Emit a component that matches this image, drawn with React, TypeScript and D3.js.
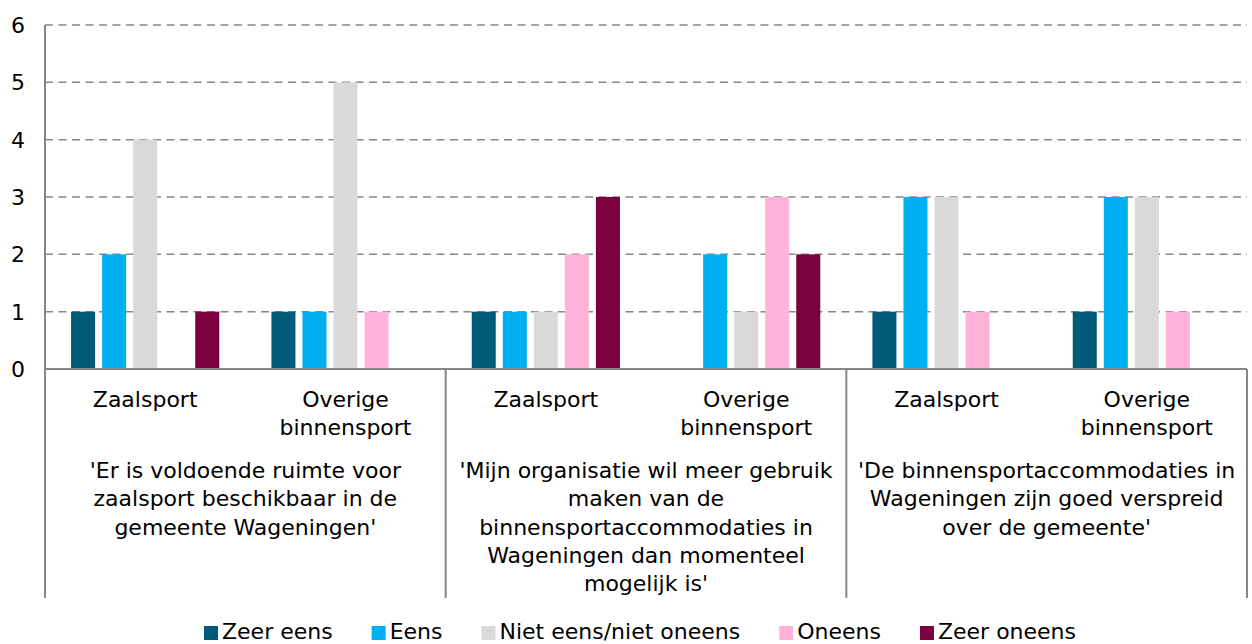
import * as d3 from 'd3';
import React, { useEffect, useRef } from 'react';

const series = ['Zeer eens', 'Eens', 'Niet eens/niet oneens', 'Oneens', 'Zeer oneens'];
const colors = ['#005A7A', '#00B0F0', '#D9D9D9', '#FFB3DA', '#7A0040'];

const questions = [
  ["'Er is voldoende ruimte voor", 'zaalsport beschikbaar in de', "gemeente Wageningen'"],
  ["'Mijn organisatie wil meer gebruik", 'maken van de', 'binnensportaccommodaties in', 'Wageningen dan momenteel', "mogelijk is'"],
  ["'De binnensportaccommodaties in", 'Wageningen zijn goed verspreid', "over de gemeente'"],
];
const subCategories = [['Zaalsport'], ['Overige', 'binnensport']];

// values per bar group, in series order
const zaalsport1 = [1, 2, 4, 0, 1];
const overige1 = [1, 1, 5, 1, 0];
const zaalsport2 = [1, 1, 1, 2, 3];
const overige2 = [0, 2, 1, 3, 2];
const zaalsport3 = [1, 3, 3, 1, 0];
const overige3 = [1, 3, 3, 1, 0];

const groupValues = [zaalsport1, overige1, zaalsport2, overige2, zaalsport3, overige3];
const yTicks = [0, 1, 2, 3, 4, 5, 6];

export default function App() {
  const svgRef = useRef<SVGSVGElement | null>(null);

  const width = 1252;
  const height = 644;
  const marginLeft = 45;
  const marginRight = 5;
  const marginTop = 25;
  const plotBottom = 369;
  const axisBottom = 598;
  const font = 'DejaVu Sans, Verdana, sans-serif';
  const axisColor = '#868686';

  useEffect(() => {
    const svg = d3.select(svgRef.current);
    svg.selectAll('*').remove();

    const groupIds = groupValues.map((_, i) => String(i));

    const x0 = d3.scaleBand<string>()
      .domain(groupIds)
      .range([marginLeft, width - marginRight]);

    const x1 = d3.scaleBand<string>()
      .domain(series)
      .range([0, x0.bandwidth()])
      .paddingInner(0.226)
      .paddingOuter(0.84);

    const y = d3.scaleLinear()
      .domain([0, 6])
      .range([plotBottom, marginTop]);

    // dashed grid lines
    svg.append('g')
      .selectAll('line')
      .data(yTicks.filter(d => d > 0))
      .join('line')
      .attr('x1', marginLeft)
      .attr('x2', width - marginRight)
      .attr('y1', d => y(d))
      .attr('y2', d => y(d))
      .attr('stroke', axisColor)
      .attr('stroke-width', 1.5)
      .attr('stroke-dasharray', '8,5.5');

    // y tick labels
    svg.append('g')
      .selectAll('text')
      .data(yTicks)
      .join('text')
      .attr('x', 25)
      .attr('y', d => y(d))
      .attr('dy', '0.36em')
      .attr('text-anchor', 'end')
      .attr('font-family', font)
      .attr('font-size', 22)
      .attr('fill', '#000')
      .text(d => d);

    // bars
    svg.append('g')
      .selectAll('g')
      .data(groupValues)
      .join('g')
      .attr('transform', (_, i) => `translate(${x0(String(i))},0)`)
      .selectAll('rect')
      .data(vals => vals.map((v, j) => ({ v, j })))
      .join('rect')
      .attr('x', d => x1(series[d.j]) as number)
      .attr('width', x1.bandwidth())
      .attr('y', d => y(d.v))
      .attr('height', d => y(0) - y(d.v))
      .attr('fill', d => colors[d.j]);

    // zero line
    svg.append('line')
      .attr('x1', marginLeft)
      .attr('x2', width - marginRight)
      .attr('y1', y(0))
      .attr('y2', y(0))
      .attr('stroke', axisColor)
      .attr('stroke-width', 2);

    // vertical separators (axis + question boundaries)
    const seps = [0, 2, 4, 6].map(i => i < 6 ? (x0(String(i)) as number) : width - marginRight);
    svg.append('g')
      .selectAll('line')
      .data(seps)
      .join('line')
      .attr('x1', d => d)
      .attr('x2', d => d)
      .attr('y1', (_, i) => i === 0 ? marginTop : y(0))
      .attr('y2', axisBottom)
      .attr('stroke', axisColor)
      .attr('stroke-width', 2);

    // sub category labels
    const sub = svg.append('g')
      .selectAll('text')
      .data(groupIds)
      .join('text')
      .attr('text-anchor', 'middle')
      .attr('font-family', font)
      .attr('font-size', 22)
      .attr('fill', '#000')
      .attr('transform', d => `translate(${(x0(d) as number) + x0.bandwidth() / 2},407)`);
    sub.selectAll('tspan')
      .data((_, i) => subCategories[i % 2])
      .join('tspan')
      .attr('x', 0)
      .attr('y', (_, k) => k * 27.5)
      .text(d => d);

    // question labels
    const q = svg.append('g')
      .selectAll('text')
      .data(questions)
      .join('text')
      .attr('text-anchor', 'middle')
      .attr('font-family', font)
      .attr('font-size', 22)
      .attr('fill', '#000')
      .attr('transform', (_, i) => `translate(${(x0(String(i * 2)) as number) + x0.bandwidth()},478)`);
    q.selectAll('tspan')
      .data(d => d)
      .join('tspan')
      .attr('x', 0)
      .attr('y', (_, k) => k * 28.3)
      .text(d => d);

    // legend
    const legend = svg.append('g');
    const items = legend.selectAll('g')
      .data(series)
      .join('g');
    items.append('rect')
      .attr('width', 14)
      .attr('height', 14)
      .attr('y', 626)
      .attr('fill', (_, i) => colors[i]);
    items.append('text')
      .attr('x', 18)
      .attr('y', 639)
      .attr('font-family', font)
      .attr('font-size', 22)
      .attr('fill', '#000')
      .text(d => d);

    const widths: number[] = [];
    items.select('text').each(function () {
      widths.push((this as SVGTextElement).getComputedTextLength());
    });
    const gap = 39;
    const itemWidths = widths.map(w => 18 + w);
    const total = d3.sum(itemWidths) + gap * (series.length - 1);
    let cx = 640 - total / 2;
    items.attr('transform', (_, i) => {
      const t = `translate(${cx},0)`;
      cx += itemWidths[i] + gap;
      return t;
    });
  }, []);

  return (
    <div style={{ position: 'absolute', left: 0, top: 0 }}>
      <svg ref={svgRef} width={width} height={height} style={{ display: 'block', background: '#fff' }} />
    </div>
  );
}
